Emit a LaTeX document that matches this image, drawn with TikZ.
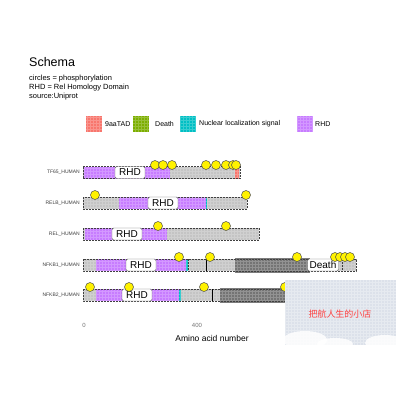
\documentclass[tikz,border=0pt]{standalone}
\usepackage{fontspec}
\setmainfont{Liberation Sans}
\newfontfamily\cjk{Noto Sans CJK SC}
\definecolor{rhdc}{HTML}{C77CFF}
\definecolor{nlsc}{HTML}{00BFC4}
\definecolor{deathc}{HTML}{7CAE00}
\definecolor{tadc}{HTML}{F8766D}
\definecolor{barg}{HTML}{C4C4C4}
\definecolor{wmc}{HTML}{DCE1EA}
\tikzset{
  barfill/.style={fill=barg},
  barline/.style={draw=black!75, dashed, dash pattern=on 2pt off 1pt, line width=0.6pt},
  rhdfill/.style={fill=rhdc},
  tex/.style={draw=white, opacity=0.22, line width=0.3pt},
  ank/.style={fill=black!60, opacity=0.85},
  phos/.style={circle, fill=yellow, draw=black!70, line width=0.5pt, minimum size=9pt, inner sep=0pt},
  dlab/.style={draw=black!60, fill=white, rounded corners=1.5pt, font=\fontsize{10}{10}\selectfont, inner sep=1pt, minimum width=30pt, minimum height=12pt},
  rowlab/.style={anchor=east, font=\fontsize{5}{5}\selectfont, text=black!75, inner sep=0pt},
  legbox/.style={minimum size=16pt, inner sep=0pt},
  legtxt/.style={anchor=west, font=\fontsize{7}{7}\selectfont, inner sep=0pt},
}
\begin{document}
\begin{tikzpicture}[x=1pt,y=-1pt]
\useasboundingbox (0,0) rectangle (400,400);
\fill[white] (0,0) rectangle (400,400);
% title
\node[anchor=west, inner sep=0pt, font=\fontsize{12.5}{12.5}\selectfont] (title) at (29,62) {Schema};
\node[anchor=west, inner sep=0pt, font=\fontsize{7.5}{7.5}\selectfont] (sub1) at (29,79) {circles = phosphorylation};
\node[anchor=west, inner sep=0pt, font=\fontsize{7.5}{7.5}\selectfont] (sub2) at (29,88) {RHD = Rel Homology Domain};
\node[anchor=west, inner sep=0pt, font=\fontsize{7.5}{7.5}\selectfont] (sub3) at (29,97) {source:Uniprot};
% legend
\node[legbox, fill=tadc] (lb1) at (93.5,124) {};
\draw[tex, step=3pt] (85.5,116) grid (101.5,132);
\node[legtxt] (lt1) at (105,124) {9aaTAD};
\node[legbox, fill=deathc] (lb2) at (140.5,124) {};
\draw[tex, step=3pt] (132.5,116) grid (148.5,132);
\node[legtxt] (lt2) at (155,124) {Death};
\node[legbox, fill=nlsc] (lb3) at (188,124) {};
\draw[tex, step=3pt] (180,116) grid (196,132);
\node[legtxt] (lt3) at (199,124) {Nuclear localization signal};
\node[legbox, fill=rhdc] (lb4) at (304.5,124) {};
\draw[tex, step=3pt] (296.5,116) grid (312.5,132);
\node[legtxt] (lt4) at (315,124) {RHD};

% ---------- TF65 ----------
\fill[barfill] (83,166.5) rectangle (240,178.5);
\fill[rhdfill] (84,166.5) rectangle (170,178.5);
\fill[tadc] (235,166.5) rectangle (239,178.5);
\draw[tex, step=3pt] (83,166.5) grid (240,178.5);
\draw[barline] (83,166.5) rectangle (240,178.5);
\node[rowlab] (r1) at (80,172.5) {TF65\_HUMAN};
\node[dlab] (d1) at (130,172.5) {RHD};
\foreach \x [count=\i] in {155,163,172,206,216,226,233,236}
  \node[phos] (p1\i) at (\x,165) {};

% ---------- RELB ----------
\fill[barfill] (83,197) rectangle (247,209);
\fill[rhdfill] (119,197) rectangle (206,209);
\fill[nlsc] (205.5,197) rectangle (207,209);
\draw[tex, step=3pt] (83,197) grid (247,209);
\draw[barline] (83,197) rectangle (247,209);
\node[rowlab] (r2) at (80,203) {RELB\_HUMAN};
\node[dlab] (d2) at (163,203) {RHD};
\node[phos] (p21) at (95,195) {};
\node[phos] (p22) at (246,195) {};

% ---------- REL ----------
\fill[barfill] (83,228) rectangle (259,240);
\fill[rhdfill] (85,228) rectangle (167,240);
\draw[tex, step=3pt] (83,228) grid (259,240);
\draw[barline] (83,228) rectangle (259,240);
\node[rowlab] (r3) at (80,234) {REL\_HUMAN};
\node[dlab] (d3) at (127,234) {RHD};
\node[phos] (p31) at (158,226) {};
\node[phos] (p32) at (226,226) {};

% ---------- NFKB1 ----------
\fill[barfill] (83,259) rectangle (356,271);
\fill[rhdfill] (96,259) rectangle (186,271);
\fill[nlsc] (186,259) rectangle (188,271);
\fill[ank] (235,257.5) rectangle (310,272.5);
\draw[tex, step=3pt] (83,259) grid (356,271);
\draw[barline] (83,259) rectangle (356,271);
\draw[barline] (188,259) -- (188,271);
\draw[black, line width=0.7pt] (206,259) -- (206,271);
\draw[barline] (342,259) -- (342,271);
\node[rowlab] (r4) at (80,265) {NFKB1\_HUMAN};
\node[dlab] (d4) at (141,265) {RHD};
\node[dlab, minimum width=31pt] (d4b) at (323,265) {Death};
\foreach \x [count=\i] in {179,210,297,335,340,345,350}
  \node[phos] (p4\i) at (\x,257) {};

% ---------- NFKB2 ----------
\fill[barfill] (83,289) rectangle (339,301);
\fill[rhdfill] (96,289) rectangle (179,301);
\fill[nlsc] (179,289) rectangle (181,301);
\fill[ank] (220,287.5) rectangle (300,302.5);
\draw[tex, step=3pt] (83,289) grid (339,301);
\draw[barline] (83,289) rectangle (339,301);
\draw[black, line width=0.7pt] (212,289) -- (212,301);
\node[rowlab] (r5) at (80,295) {NFKB2\_HUMAN};
\node[dlab] (d5) at (137,295) {RHD};
\foreach \x [count=\i] in {90,129,204,285}
  \node[phos] (p5\i) at (\x,287) {};

% axis
\node[font=\fontsize{6}{6}\selectfont, text=black!55, inner sep=0pt] (t0) at (84,325) {0};
\node[font=\fontsize{6}{6}\selectfont, text=black!55, inner sep=0pt] (t400) at (197,325) {400};
\node[font=\fontsize{8.5}{8.5}\selectfont, inner sep=0pt] (xl) at (212,338) {Amino acid number};

% watermark
\fill[wmc] (285,280) rectangle (396,345);
\draw[white, opacity=0.3, line width=0.3pt, step=3pt] (285,280) grid (396,345);
\fill[white, opacity=0.85] (305,340) ellipse (22 and 9);
\fill[white, opacity=0.85] (335,344) ellipse (18 and 6);
\fill[white, opacity=0.85] (385,343) ellipse (20 and 8);
\node[text=red!75, font=\cjk\fontsize{9}{9}\selectfont, inner sep=0pt] (wm) at (340,314) {把航人生的小店};
\end{tikzpicture}
\end{document}
